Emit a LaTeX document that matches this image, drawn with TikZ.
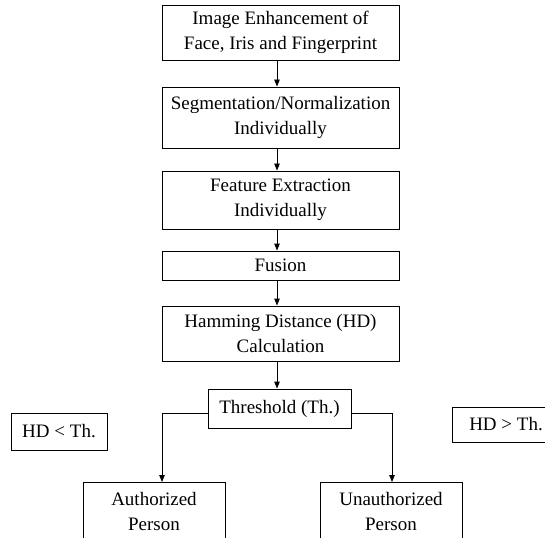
\documentclass[tikz,border=0pt]{standalone}
\usepackage{fontspec}
\setmainfont{Liberation Serif}
\usepackage{tikz}
\usetikzlibrary{arrows.meta}
\newcommand*{\bwd  }{237}
\newcommand*{\cx   }{280.5}
\newcommand*{\ax   }{-3.5pt}

\begin{document}
\begin{tikzpicture}[x=1pt, y=-1pt, line width=0.9pt,
    box/.style={draw, align=center, inner sep=0pt, font=\fontsize{19}{25}\selectfont},
    flow/.style={-{Triangle[length=7pt,width=5.5pt]}}]
    \useasboundingbox (0,0) rectangle (545,537);
        \node [box, minimum width=\bwd, minimum height=55] (enh) at (\cx, 32.5) {Image Enhancement of\\Face, Iris and Fingerprint};
        \node [box, minimum width=\bwd, minimum height=61] (seg) at (\cx,117.5) {Segmentation/Normalization\\Individually};
        \node [box, minimum width=\bwd, minimum height=58] (fex) at (\cx,200.0) {Feature Extraction\\Individually};
        \node [box, minimum width=\bwd, minimum height=29] (fus) at (\cx,265.5) {Fusion};
        \node [box, minimum width=\bwd, minimum height=55] (ham) at (\cx,333.5) {Hamming Distance (HD)\\Calculation};
        \node [box, minimum width=143, minimum height=39] (thr) at (279.5,408.5) {Threshold (Th.)};
        \node [box, minimum width=96,  minimum height=37] (lt)  at (59,431.5) {HD < Th.};
        \node [box, minimum width=108, minimum height=35] (gt)  at (506,424.5) {HD > Th.};
        \node [box, minimum width=142, minimum height=58, anchor=north] (auth)   at (154,482) {Authorized\\Person};
        \node [box, minimum width=142, minimum height=58, anchor=north] (unauth) at (391,482) {Unauthorized\\Person};
        \draw [flow] ([xshift=\ax]enh.south) -- ([xshift=\ax]seg.north);
        \draw [flow] ([xshift=\ax]seg.south) -- ([xshift=\ax]fex.north);
        \draw [flow] ([xshift=\ax]fex.south) -- ([xshift=\ax]fus.north);
        \draw [flow] ([xshift=\ax]fus.south) -- ([xshift=\ax]ham.north);
        \draw [flow] ([xshift=\ax]ham.south) -- ([xshift=\ax+1pt]thr.north);
        \draw [flow] ([yshift=-4.5pt]thr.west) -| ([xshift=8pt]auth.north);
        \draw [flow] ([yshift=-4.5pt]thr.east) -| ([xshift=1pt]unauth.north);
    \end{tikzpicture}
\end{document}
